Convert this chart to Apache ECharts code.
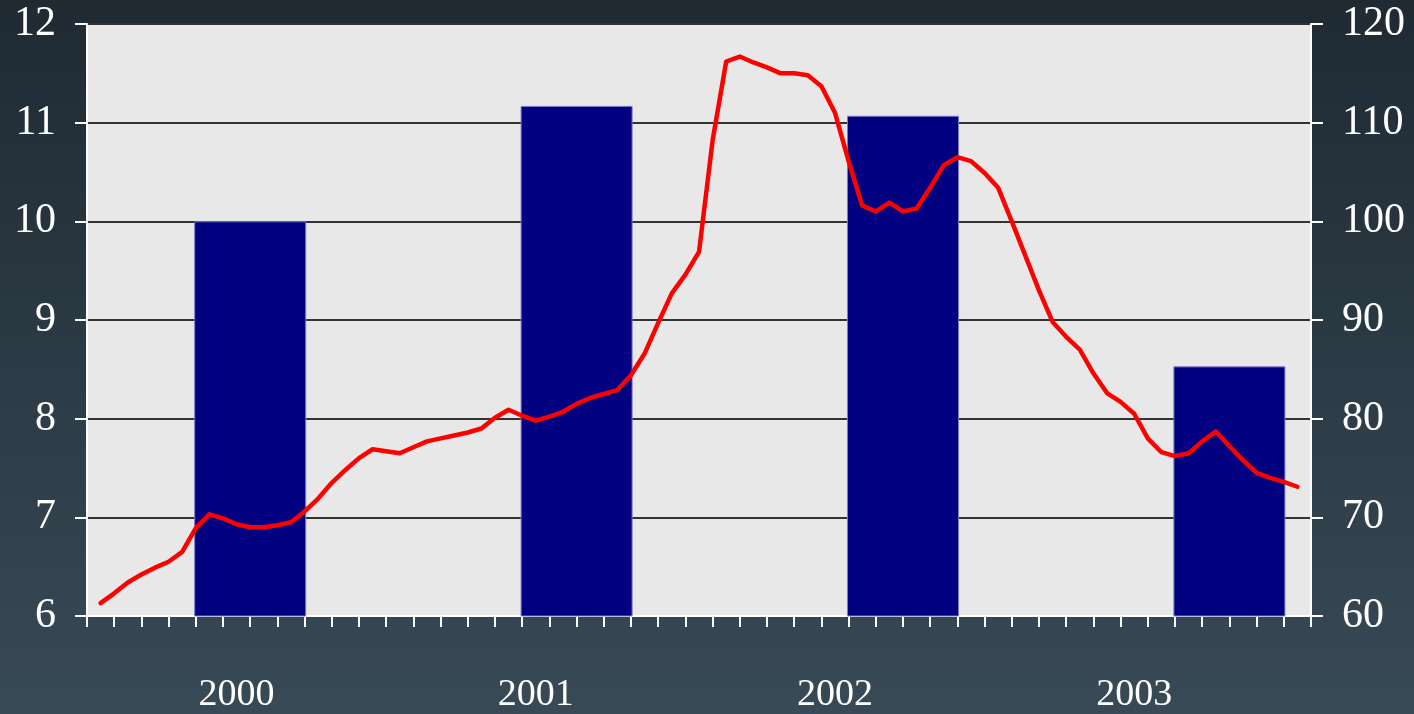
<!DOCTYPE html>
<html>
<head>
<meta charset="utf-8">
<script src="https://cdn.jsdelivr.net/npm/echarts@6/dist/echarts.min.js"></script>
<style>
  html, body { margin: 0; padding: 0; }
  #chart { width: 1414px; height: 714px; }
</style>
</head>
<body>
<div id="chart"></div>
<script>
// month ticks (45 months); year labels sit under a few of them
const monthLabels = Array(45).fill('')
monthLabels[5] = '2000'
monthLabels[16] = '2001'
monthLabels[27] = '2002'
monthLabels[38] = '2003'

// annual bars (left axis), placed at mid-year month boundary
const barMonths = [5.5, 17.5, 29.5, 41.5]
const barValues = [10.0, 11.17, 11.07, 8.53]

// red index line (right axis), one reading every half month
const lineValues = [
  61.3, 62.3, 63.4, 64.2, 64.9, 65.5, 66.5, 68.9, 70.3, 69.9,
  69.3, 69.0, 69.0, 69.2, 69.5, 70.6, 71.9, 73.5, 74.8, 76.0,
  76.9, 76.7, 76.5, 77.1, 77.7, 78.0, 78.3, 78.6, 79.0, 80.1,
  80.9, 80.3, 79.8, 80.2, 80.7, 81.5, 82.1, 82.5, 82.9, 84.4,
  86.6, 89.7, 92.7, 94.6, 96.9, 108.2, 116.2, 116.7, 116.1, 115.6,
  115.0, 115.0, 114.8, 113.7, 111.0, 106.1, 101.6, 101.0, 101.9, 101.0,
  101.3, 103.4, 105.7, 106.5, 106.1, 104.9, 103.4, 100.0, 96.5, 93.0,
  89.8, 88.3, 87.0, 84.6, 82.6, 81.7, 80.5, 78.0, 76.6, 76.2,
  76.5, 77.7, 78.7, 77.2, 75.8, 74.5, 74.0, 73.6, 73.1
]

const leftTicks = [6, 12, 1]
const rightTicks = [60, 120, 10]

const serif = 'Liberation Serif'
const chart = echarts.init(document.getElementById('chart'))

const option = {
  animation: false,
  backgroundColor: {
    type: 'linear', x: 0, y: 0, x2: 0, y2: 1,
    colorStops: [
      { offset: 0, color: '#1f2a33' },
      { offset: 1, color: '#384a56' }
    ]
  },
  grid: {
    left: 87,
    right: 103,
    top: 24,
    bottom: 98,
    show: true,
    backgroundColor: '#e8e8e8',
    borderColor: '#9a9a9a',
    borderWidth: 2
  },
  xAxis: [
    {
      type: 'category',
      data: monthLabels,
      boundaryGap: true,
      position: 'bottom',
      axisLine: { show: true, onZero: false, lineStyle: { color: '#fff', width: 2 } },
      axisTick: {
        show: true,
        interval: 0,
        inside: false,
        alignWithLabel: false,
        length: 11,
        lineStyle: { color: '#fff', width: 2 }
      },
      axisLabel: {
        interval: 0,
        color: '#fff',
        fontFamily: serif,
        fontSize: 38,
        margin: 60
      },
      splitLine: { show: false }
    },
    {
      // hidden month scale used to place the bars and line
      type: 'value',
      min: -0.5,
      max: 44.5,
      show: false,
      axisLine: { onZero: false }
    }
  ],
  yAxis: [
    {
      type: 'value',
      min: leftTicks[0],
      max: leftTicks[1],
      interval: leftTicks[2],
      position: 'left',
      axisLine: { show: true, onZero: false, lineStyle: { color: '#fff', width: 2 } },
      axisTick: { show: true, inside: false, length: 12, lineStyle: { color: '#fff', width: 2 } },
      axisLabel: { color: '#fff', fontFamily: serif, fontSize: 42, margin: 31 },
      splitLine: { show: true, lineStyle: { color: '#333', width: 2 } }
    },
    {
      type: 'value',
      min: rightTicks[0],
      max: rightTicks[1],
      interval: rightTicks[2],
      position: 'right',
      axisLine: { show: true, onZero: false, lineStyle: { color: '#fff', width: 2 } },
      axisTick: { show: true, inside: false, length: 12, lineStyle: { color: '#fff', width: 2 } },
      axisLabel: { color: '#fff', fontFamily: serif, fontSize: 42, margin: 31 },
      splitLine: { show: false }
    }
  ],
  series: [
    {
      type: 'bar',
      xAxisIndex: 1,
      yAxisIndex: 0,
      barWidth: 112,
      data: barMonths.map((m, i) => [m, barValues[i]]),
      itemStyle: { color: '#000080', borderColor: '#7a7ac4', borderWidth: 1 },
      z: 2
    },
    {
      type: 'line',
      xAxisIndex: 1,
      yAxisIndex: 1,
      data: lineValues.map((v, i) => [i / 2, v]),
      showSymbol: false,
      smooth: false,
      lineStyle: { color: '#ff0000', width: 4.5, join: 'round', cap: 'round' },
      z: 3
    }
  ]
}
chart.setOption(option)
</script>
</body>
</html>
